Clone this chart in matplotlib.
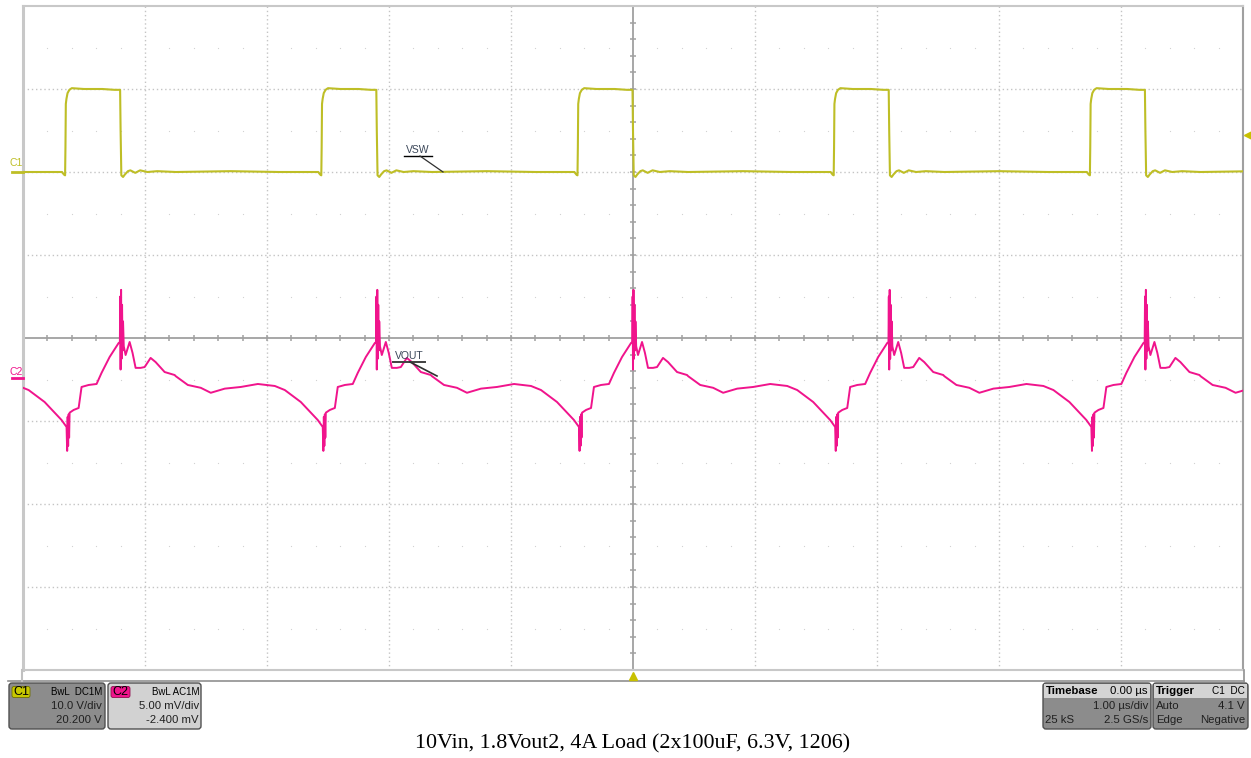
import numpy as np
import matplotlib
matplotlib.use("Agg")
import matplotlib.pyplot as plt
from matplotlib.patches import FancyBboxPatch, Rectangle

plt.rcParams['font.family'] = ['Liberation Sans', 'DejaVu Sans']

# switching-edge (VSW falling edge) times, us
fall_times = [-6.30, -4.20, -2.10, 0.00, 2.10, 4.20, 6.30]

# one period of VSW, time from falling edge (us) / level (div)
vsw_dt = [-1.648, -1.20, -0.80, -0.48, -0.465, -0.455, -0.452, -0.449, -0.444,
          -0.435, -0.42, -0.40, -0.30, -0.15, -0.05, -0.004, 0.0, 0.006, 0.02,
          0.035, 0.06, 0.08, 0.12, 0.16, 0.22, 0.30, 0.44]
vsw_v = [2.00, 2.01, 2.00, 2.00, 1.97, 1.96, 2.30, 2.82, 2.88, 2.95, 2.99, 3.01,
         3.00, 3.00, 2.99, 2.99, 2.50, 1.96, 1.94, 1.97, 2.01, 2.02, 1.99, 2.02,
         2.00, 2.01, 2.00]

# one period of VOUT, time from falling edge (us) / level (div)
vout_dt = [-1.648, -1.549, -1.443, -1.361, -1.246, -1.115, -0.975, -0.836, -0.754,
           -0.623, -0.484, -0.443, -0.438, -0.434, -0.430, -0.426, -0.422, -0.418,
           -0.385, -0.344, -0.320, -0.262, -0.197, -0.156, -0.090, -0.016,
           -0.006, -0.003, 0.0, 0.004, 0.008, 0.012, 0.016, 0.020, 0.026,
           0.041, 0.074, 0.098, 0.123, 0.164, 0.197, 0.246, 0.287, 0.361, 0.443]
vout_v = [-0.46, -0.566, -0.60, -0.66, -0.61, -0.59, -0.554, -0.578, -0.627,
          -0.771, -0.988, -1.072, -1.36, -0.95, -1.30, -0.92, -1.20, -0.90,
          -0.867, -0.843, -0.59, -0.566, -0.554, -0.42, -0.229, -0.06,
          -0.05, 0.50, -0.38, 0.58, -0.25, 0.40, -0.15, 0.20, -0.10,
          -0.205, -0.048, -0.18, -0.36, -0.36, -0.35, -0.24, -0.29, -0.41, -0.446]

caption = "10Vin, 1.8Vout2, 4A Load (2x100uF, 6.3V, 1206)"

c1_col = '#BEBE26'
c2_col = '#F0148C'

# build the traces by placing the period at each edge
t1 = np.concatenate([f + np.array(vsw_dt) for f in fall_times])
v1 = np.concatenate([np.array(vsw_v) for f in fall_times])
t2 = np.concatenate([f + np.array(vout_dt) for f in fall_times])
v2 = np.concatenate([np.array(vout_v) for f in fall_times])

W, H = 1251, 758
fig = plt.figure(figsize=(W / 100, H / 100), dpi=100)
fig.patch.set_facecolor('white')

ax = fig.add_axes([23 / W, (H - 670) / H, 1220 / W, 664 / H])
ax.set_xlim(-5, 5)
ax.set_ylim(-4, 4)
ax.set_xticks([])
ax.set_yticks([])

# graticule
for x in range(-4, 5):
    if x != 0:
        ax.axvline(x, color='#c4c4c4', lw=1, ls=(0, (1, 2)), zorder=1)
for y in range(-3, 4):
    if y != 0:
        ax.axhline(y, color='#c4c4c4', lw=1, ls=(0, (1, 2)), zorder=1)
ax.axvline(0, color='#a0a0a0', lw=1.3, zorder=1)
ax.axhline(0, color='#a0a0a0', lw=1.3, zorder=1)
minor_x = np.round(np.arange(-4.8, 5.0, 0.2), 2)
minor_y = np.round(np.arange(-3.8, 4.0, 0.2), 2)
ax.vlines(minor_x, -0.036, 0.036, color='#a0a0a0', lw=1.1, zorder=1)
ax.hlines(minor_y, -0.025, 0.025, color='#a0a0a0', lw=1.1, zorder=1)
dots_x = minor_x[np.abs(minor_x - np.round(minor_x)) > 0.05]
for yy in np.arange(-3.5, 4.0, 1.0):
    ax.plot(dots_x, np.full(len(dots_x), yy), ls='none', marker='s', ms=0.8,
            mew=0, color='#d2d2d2', zorder=1)

for s in ax.spines.values():
    s.set_color('#c8c8c8')
    s.set_linewidth(1.5)
ax.spines['left'].set_linewidth(2.2)
ax.spines['right'].set_color('#a0a0a0')

ax.plot(t1, v1, color=c1_col, lw=1.5, zorder=3)
ax.plot(t2, v2, color=c2_col, lw=1.4, zorder=3)

# overlay in pixel coordinates
ov = fig.add_axes([0, 0, 1, 1])
ov.set_xlim(0, W)
ov.set_ylim(H, 0)
ov.axis('off')
ov.patch.set_alpha(0)

ov.plot([8, 1244], [680.5, 680.5], color='#909090', lw=1.2)
ov.plot([1244, 1244], [670, 680.5], color='#909090', lw=1.2)
ov.plot([22, 22], [670, 680.5], color='#c0c0c0', lw=1.5)

# trigger markers
ov.plot([1248], [135], marker='<', ms=6, color='#C8C000', clip_on=False)
ov.plot([633], [676], marker='^', ms=6, color='#C8C000')

# channel markers
ov.text(10, 163, 'C1', color=c1_col, fontsize=7.5, va='center', ha='left')
ov.plot([12, 23], [171.5, 171.5], color=c1_col, lw=2)
ov.text(10, 372, 'C2', color=c2_col, fontsize=7.5, va='center', ha='left')
ov.plot([12, 23], [378, 378], color=c2_col, lw=2)

# trace labels
ov.text(418, 150, 'VSW', color='#3a4658', fontsize=7.5, ha='center', va='center')
ov.plot([404, 432], [156, 156], color='black', lw=1)
ov.plot([420, 443], [156, 172], color='#303030', lw=0.9)
ov.text(409, 356, 'VOUT', color='#3a4658', fontsize=7.5, ha='center', va='center')
ov.plot([393, 425], [362, 362], color='#404040', lw=1.4)
ov.plot([410, 437], [362, 376], color='#303030', lw=1.2)


def info_box(x0, x1, head_fc, body_fc):
    body = FancyBboxPatch((x0, 683), x1 - x0, 46, boxstyle='round,pad=0,rounding_size=3',
                          fc=body_fc, ec='#505050', lw=1)
    ov.add_patch(body)
    if head_fc != body_fc:
        ov.add_patch(Rectangle((x0 + 1, 684), x1 - x0 - 2, 14, fc=head_fc, ec='none'))


fs = 8.2
# C1 box
info_box(9, 105, '#8c8c8c', '#8c8c8c')
ov.add_patch(FancyBboxPatch((12, 686.5), 18, 11, boxstyle='round,pad=0,rounding_size=2',
                            fc='#C8C800', ec='#707000', lw=0.6))
ov.text(21, 692, 'C1', fontsize=9, ha='center', va='center', color='black')
ov.text(102, 692, 'BwL  DC1M', fontsize=7, ha='right', va='center', color='black')
ov.text(102, 706, '10.0 V/div', fontsize=fs, ha='right', va='center', color='#202020')
ov.text(102, 720, '20.200 V', fontsize=fs, ha='right', va='center', color='#202020')
# C2 box
info_box(108, 201, '#d2d2d2', '#d2d2d2')
ov.add_patch(FancyBboxPatch((111, 686.5), 19, 11, boxstyle='round,pad=0,rounding_size=2',
                            fc=c2_col, ec='#901050', lw=0.6))
ov.text(120.5, 692, 'C2', fontsize=9, ha='center', va='center', color='black')
ov.text(199, 692, 'BwL AC1M', fontsize=7, ha='right', va='center', color='black')
ov.text(199, 706, '5.00 mV/div', fontsize=fs, ha='right', va='center', color='#202020')
ov.text(199, 720, '-2.400 mV', fontsize=fs, ha='right', va='center', color='#202020')
# Timebase box
info_box(1043, 1151, '#d4d4d4', '#8c8c8c')
ov.text(1046, 691, 'Timebase', fontsize=8.2, fontweight='bold', ha='left', va='center')
ov.text(1148, 691, '0.00 µs', fontsize=fs, ha='right', va='center')
ov.text(1148, 706, '1.00 µs/div', fontsize=fs, ha='right', va='center', color='#202020')
ov.text(1045, 720, '25 kS', fontsize=fs, ha='left', va='center', color='#202020')
ov.text(1148, 720, '2.5 GS/s', fontsize=fs, ha='right', va='center', color='#202020')
# Trigger box
info_box(1153, 1248, '#d4d4d4', '#8c8c8c')
ov.text(1156, 691, 'Trigger', fontsize=8.2, fontweight='bold', ha='left', va='center')
ov.text(1245, 691, 'C1  DC', fontsize=7.2, ha='right', va='center')
ov.text(1156, 706, 'Auto', fontsize=fs, ha='left', va='center', color='#202020')
ov.text(1245, 706, '4.1 V', fontsize=fs, ha='right', va='center', color='#202020')
ov.text(1156, 720, 'Edge', fontsize=fs, ha='left', va='center', color='#202020')
ov.text(1245, 720, 'Negative', fontsize=fs, ha='right', va='center', color='#202020')

ov.text(633, 744, caption, fontsize=15.8, family='Liberation Serif', ha='center', va='center')

fig.savefig('out.png', dpi=100)
